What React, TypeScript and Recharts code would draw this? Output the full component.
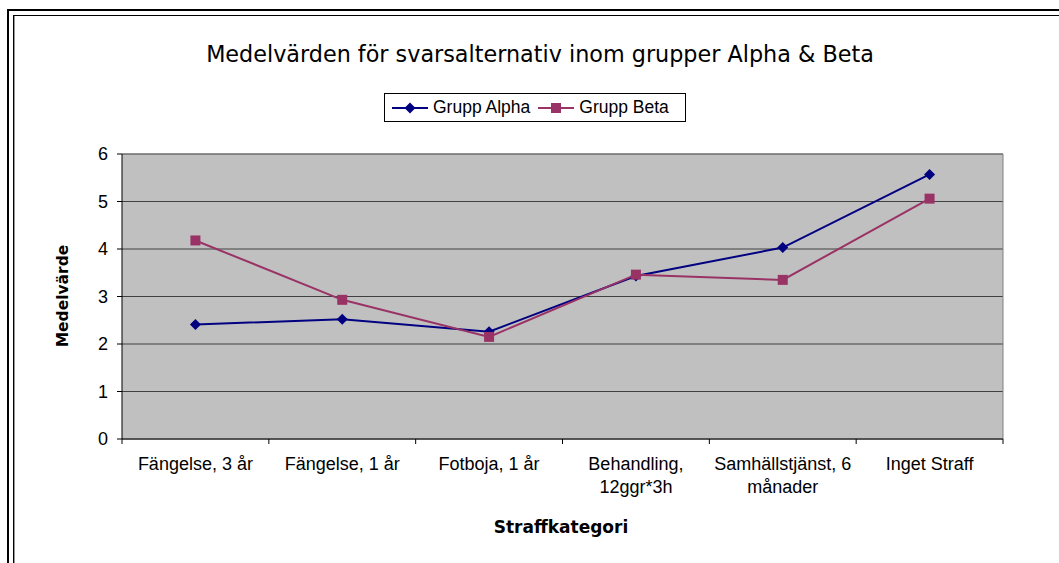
import React from "react"
import { LineChart, Line, XAxis, YAxis, CartesianGrid, ReferenceLine, Text } from "recharts"

const categories = [
  "Fängelse, 3 år",
  "Fängelse, 1 år",
  "Fotboja, 1 år",
  "Behandling, 12ggr*3h",
  "Samhällstjänst, 6 månader",
  "Inget Straff",
]
const alphaValues = [2.41, 2.52, 2.26, 3.43, 4.03, 5.57]
const betaValues = [4.18, 2.93, 2.15, 3.46, 3.35, 5.06]
const yTicks = [0, 1, 2, 3, 4, 5, 6]

const ALPHA = "#000080"
const BETA = "#993366"
const FONT = "'Liberation Sans', Arial, sans-serif"

const data = categories.map((name, i) => ({ name, alpha: alphaValues[i], beta: betaValues[i] }))

const Diamond = (props: any) => {
  const { cx, cy } = props
  if (cx == null || cy == null) return null
  const r = 5.5
  return <polygon points={`${cx},${cy - r} ${cx + r},${cy} ${cx},${cy + r} ${cx - r},${cy}`} fill={ALPHA} />
}

const Square = (props: any) => {
  const { cx, cy } = props
  if (cx == null || cy == null) return null
  return <rect x={cx - 5} y={cy - 5} width={10} height={10} fill={BETA} />
}

// label centred in the band, tick marks on the band edges (Excel style)
const CategoryTick = (props: any) => {
  const { x, y, payload, index, width, visibleTicksCount } = props
  const half = width && visibleTicksCount ? width / visibleTicksCount / 2 : 73.4
  const isLast = index === visibleTicksCount - 1
  return (
    <g>
      <line x1={x - half} y1={y - 5} x2={x - half} y2={y} stroke="#000" />
      {isLast && <line x1={x + half} y1={y - 5} x2={x + half} y2={y} stroke="#000" />}
      <Text
        x={x}
        y={y + 13}
        width={132}
        textAnchor="middle"
        verticalAnchor="start"
        lineHeight="1.3em"
        fontSize={18}
        fontFamily={FONT}
        fill="#000"
      >
        {payload.value}
      </Text>
    </g>
  )
}

function LegendBox() {
  const items = [
    { label: "Grupp Alpha", color: ALPHA, shape: "diamond" },
    { label: "Grupp Beta", color: BETA, shape: "square" },
  ]
  return (
    <div
      style={{
        position: "absolute",
        left: 384,
        top: 93,
        width: 302,
        height: 29,
        border: "1px solid #000",
        background: "#fff",
        display: "flex",
        alignItems: "center",
        paddingLeft: 7,
        boxSizing: "border-box",
        fontFamily: FONT,
        fontSize: 17.5,
      }}
    >
      {items.map((it) => (
        <div key={it.label} style={{ display: "flex", alignItems: "center", marginRight: 8 }}>
          <svg width={36} height={14} style={{ marginRight: 5 }}>
            <line x1={0} y1={7} x2={36} y2={7} stroke={it.color} strokeWidth={2} />
            {it.shape === "diamond" ? (
              <polygon points="18,1.5 23.5,7 18,12.5 12.5,7" fill={it.color} />
            ) : (
              <rect x={13} y={2} width={10} height={10} fill={it.color} />
            )}
          </svg>
          <span>{it.label}</span>
        </div>
      ))}
    </div>
  )
}

export default function App() {
  return (
    <div style={{ position: "absolute", left: 0, top: 0, width: 1059, height: 563, background: "#fff", overflow: "hidden" }}>
      {/* frame lines */}
      <div style={{ position: "absolute", left: 7, top: 9, width: 1100, height: 600, borderTop: "2px solid #000", borderLeft: "2px solid #000" }} />
      <div style={{ position: "absolute", left: 13, top: 15, width: 1100, height: 600, borderTop: "1px solid #000", borderLeft: "1px solid #000", boxShadow: "inset 1px 0 0 #999" }} />

      <div
        style={{
          position: "absolute",
          left: 0,
          top: 41,
          width: 1080,
          textAlign: "center",
          fontFamily: "'DejaVu Sans', sans-serif",
          fontSize: 22.3,
          color: "#000",
        }}
      >
        Medelvärden för svarsalternativ inom grupper Alpha &amp; Beta
      </div>

      <LegendBox />

      <div
        style={{
          position: "absolute",
          left: 63,
          top: 296,
          transform: "translate(-50%, -50%) rotate(-90deg)",
          fontFamily: "'DejaVu Sans', sans-serif",
          fontWeight: "bold",
          fontSize: 15.5,
          whiteSpace: "nowrap",
        }}
      >
        Medelvärde
      </div>
      <div
        style={{
          position: "absolute",
          left: 0,
          top: 517,
          width: 1122,
          textAlign: "center",
          fontFamily: "'DejaVu Sans', sans-serif",
          fontWeight: "bold",
          fontSize: 17,
        }}
      >
        Straffkategori
      </div>

      <div style={{ position: "absolute", left: 0, top: 0 }}>
        <LineChart width={1059} height={563} data={data} margin={{ top: 154, right: 56, left: 72, bottom: 84 }}>
          <CartesianGrid vertical={false} stroke="#404040" fill="#C0C0C0" fillOpacity={1} />
          <CartesianGrid
            horizontal={false}
            stroke="#808080"
            verticalCoordinatesGenerator={({ offset }: any) => [offset.left + offset.width]}
          />
          <XAxis
            dataKey="name"
            scale="band"
            tickLine={false}
            tickSize={5}
            tickMargin={0}
            axisLine={{ stroke: "#404040", strokeWidth: 1.5 }}
            interval={0}
            tick={<CategoryTick />}
            height={40}
          />
          <YAxis
            domain={[0, 6]}
            ticks={yTicks}
            width={50}
            tickSize={5}
            tickMargin={9}
            tickLine={{ stroke: "#000" }}
            axisLine={{ stroke: "#000" }}
            tick={{ fill: "#000", fontSize: 18, fontFamily: FONT }}
          />
          <ReferenceLine y={6} stroke="#808080" />
          <Line
            type="linear"
            dataKey="alpha"
            stroke={ALPHA}
            strokeWidth={2}
            dot={<Diamond />}
            activeDot={false}
            isAnimationActive={false}
          />
          <Line
            type="linear"
            dataKey="beta"
            stroke={BETA}
            strokeWidth={2}
            dot={<Square />}
            activeDot={false}
            isAnimationActive={false}
          />
        </LineChart>
      </div>
    </div>
  )
}
